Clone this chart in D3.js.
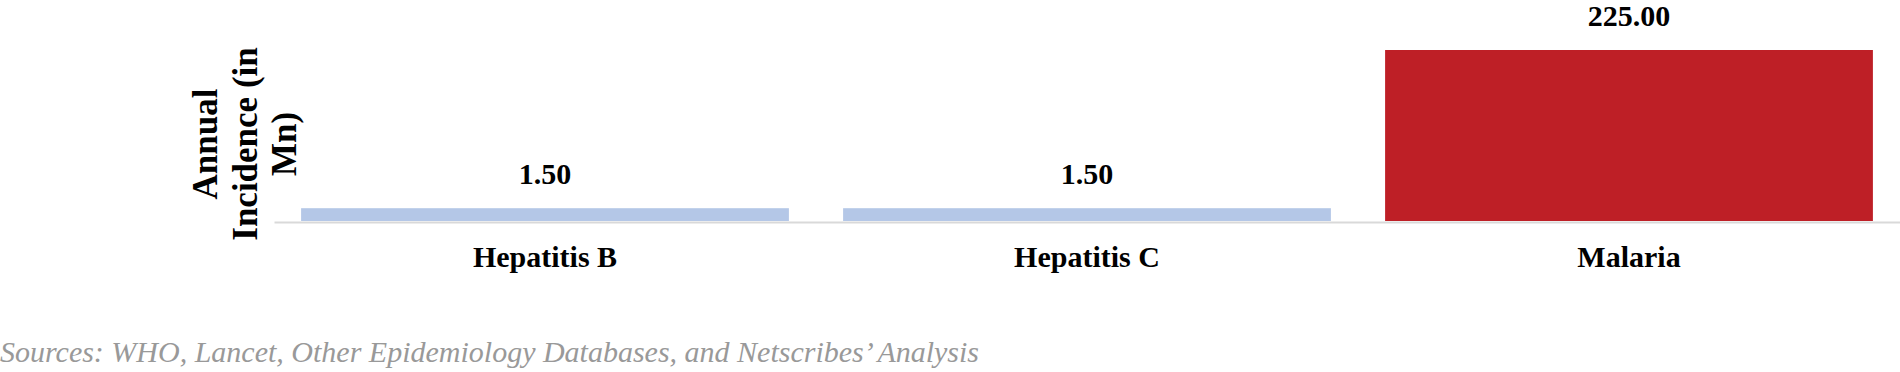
<!DOCTYPE html>
<html>
<head>
<meta charset="utf-8">
<script src="https://cdn.jsdelivr.net/npm/d3@7"></script>
<style>
	body { margin: 0; background: #fff; }
	text { font-family: "Liberation Serif", "Times New Roman", serif; }
</style>
</head>
<body>
<div id="vis_container"></div>
<script>
// Annual incidence (in millions) for each disease.
var diseases = ["Hepatitis B", "Hepatitis C", "Malaria"];
var incidence = [1.5, 1.5, 225];
var bar_colors = ["#b4c7e7", "#b4c7e7", "#be1f26"];
var title_lines = ["Annual", "Incidence (in", "Mn)"];
var source_note = "Sources: WHO, Lancet, Other Epidemiology Databases, and Netscribes\u2019 Analysis";

var width = 1900;
var height = 372;

var data = diseases.map(function(d, i) {
	return {name: d, value: incidence[i], color: bar_colors[i]};
});

// Band scale for the three categories, the plot runs to the right edge.
var x = d3.scaleBand()
	.domain(diseases)
	.range([274, 1900])
	.paddingInner(0.1)
	.paddingOuter(0.05);

// The small bars stay visible, so the value axis is logarithmic.
var y = d3.scaleLog()
	.domain([1, 225])
	.range([221, 50]);

var svg = d3.select("#vis_container")
	.append("svg")
	.attr("width", width)
	.attr("height", height);

svg.selectAll(".bar")
	.data(data)
	.enter().append("rect")
	.attr("class", "bar")
	.attr("x", function(d) { return x(d.name); })
	.attr("width", x.bandwidth())
	.attr("y", function(d) { return y(d.value); })
	.attr("height", function(d) { return y(1) - y(d.value); })
	.style("fill", function(d) { return d.color; });

// Baseline axis, no ticks.
var axis = svg.append("g")
	.attr("transform", "translate(0,222)")
	.call(d3.axisBottom(x).tickSize(0).tickPadding(0));
axis.select(".domain").attr("stroke", "#d9d9d9").attr("stroke-width", 2);
axis.selectAll(".tick text")
	.attr("dy", null)
	.attr("y", 45)
	.style("font-family", "'Liberation Serif', 'Times New Roman', serif")
	.style("font-size", "30px")
	.style("font-weight", "bold")
	.style("fill", "#000");

// Value labels above the bars.
svg.selectAll(".value")
	.data(data)
	.enter().append("text")
	.attr("class", "value")
	.attr("x", function(d) { return x(d.name) + x.bandwidth() / 2; })
	.attr("y", function(d) { return y(d.value) - 24; })
	.style("text-anchor", "middle")
	.style("font-size", "30px")
	.style("font-weight", "bold")
	.text(function(d) { return d3.format(".2f")(d.value); });

// Rotated axis title on three lines.
var title = svg.append("text")
	.attr("transform", "translate(217,144) rotate(-90)")
	.style("text-anchor", "middle")
	.style("font-size", "35px")
	.style("font-weight", "bold");
title.selectAll("tspan")
	.data(title_lines)
	.enter().append("tspan")
	.attr("x", 0)
	.attr("y", function(d, i) { return i * 39.5; })
	.text(function(d) { return d; });

svg.append("text")
	.attr("x", 0)
	.attr("y", 362)
	.style("font-size", "30px")
	.style("font-style", "italic")
	.style("fill", "#999999")
	.text(source_note);
</script>
</body>
</html>
